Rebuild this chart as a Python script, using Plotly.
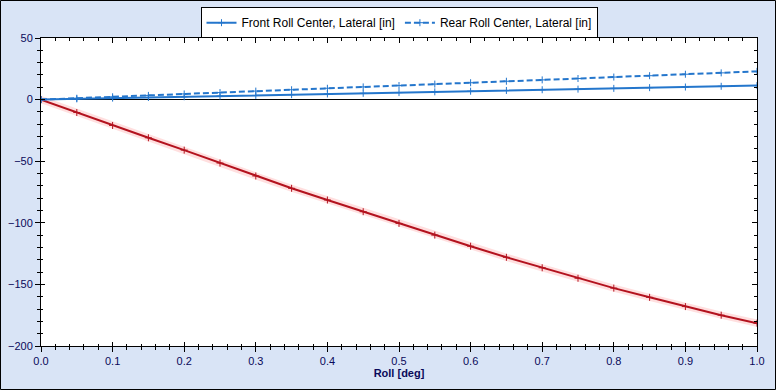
import plotly.graph_objects as go

roll = [0.0, 0.05, 0.1, 0.15, 0.2, 0.25, 0.3, 0.35, 0.4, 0.45, 0.5,
        0.55, 0.6, 0.65, 0.7, 0.75, 0.8, 0.85, 0.9, 0.95, 1.0]
front_rc = [0.0, 0.6, 1.2, 1.7, 2.3, 2.9, 3.4, 4.0, 4.6, 5.1, 5.7,
            6.3, 6.8, 7.4, 8.0, 8.5, 9.1, 9.7, 10.2, 10.8, 11.4]
rear_rc = [0.0, 1.1, 2.3, 3.4, 4.6, 5.7, 6.9, 8.0, 9.2, 10.3, 11.4,
           12.6, 13.7, 14.9, 16.0, 17.1, 18.3, 19.4, 20.6, 21.7, 22.9]
red_series = [0.0, -10.5, -21.0, -31.0, -41.0, -51.5, -62.0, -72.0, -81.5, -91.0, -100.5,
              -110.0, -119.0, -128.0, -136.5, -145.0, -153.0, -160.5, -168.0, -175.0, -181.5]

BLUE = "#2476cc"
RED = "#b3121e"
NAVY = "#0a0a5a"

fig = go.Figure()
# faint glow under red line
fig.add_trace(go.Scatter(x=roll, y=red_series, mode="lines",
                         line=dict(color="rgba(255,110,110,0.22)", width=7),
                         showlegend=False, hoverinfo="skip"))
fig.add_trace(go.Scatter(x=roll, y=red_series, mode="lines+markers",
                         line=dict(color=RED, width=2),
                         marker=dict(symbol="cross-thin", size=5, color=RED,
                                     line=dict(color=RED, width=1)),
                         showlegend=False))
fig.add_trace(go.Scatter(x=roll, y=front_rc, mode="lines+markers",
                         name="Front Roll Center, Lateral [in]",
                         line=dict(color=BLUE, width=2),
                         marker=dict(symbol="cross-thin", size=5, color=BLUE,
                                     line=dict(color=BLUE, width=1))))
fig.add_trace(go.Scatter(x=roll, y=rear_rc, mode="lines+markers",
                         name="Rear Roll Center, Lateral [in]",
                         line=dict(color=BLUE, width=2, dash="6px,3px"),
                         marker=dict(symbol="cross-thin", size=5, color=BLUE,
                                     line=dict(color=BLUE, width=1))))

tickfont = dict(family="Liberation Sans, Arial, sans-serif", size=11, color=NAVY)

fig.update_layout(
    width=776, height=390,
    margin=dict(l=41, r=19, t=38, b=44, autoexpand=False),
    paper_bgcolor="#d9e4f6",
    plot_bgcolor="white",
    font=dict(family="Liberation Sans, Arial, sans-serif", size=12, color="black"),
    legend=dict(orientation="h", x=0.5, xanchor="center", y=1.1, yanchor="top",
                bgcolor="white", bordercolor="black", borderwidth=1,
                font=dict(size=12, color="black"), itemwidth=30,
                tracegroupgap=0),
    xaxis=dict(range=[0, 1], tickvals=[i / 10 for i in range(11)],
               ticktext=[f"{i/10:.1f}" for i in range(11)],
               ticks="outside", ticklen=5, tickcolor="black", tickwidth=1,
               minor=dict(dtick=0.02, ticks="outside", ticklen=3, tickcolor="black"),
               showline=True, linecolor="black", linewidth=1, mirror=True,
               showgrid=False, zeroline=False, tickfont=tickfont,
               title=dict(text="<b>Roll [deg]</b>", font=dict(size=11, color=NAVY), standoff=2)),
    yaxis=dict(range=[-200, 50], dtick=50,
               ticks="outside", ticklen=5, tickcolor="black", tickwidth=1,
               minor=dict(dtick=10, ticks="outside", ticklen=3, tickcolor="black"),
               showline=True, linecolor="black", linewidth=1, mirror=True,
               showgrid=False, zeroline=True, zerolinecolor="black", zerolinewidth=1,
               tickfont=tickfont),
    xaxis2=dict(overlaying="x", side="top", range=[0, 1], dtick=0.1,
                ticks="inside", ticklen=5, tickcolor="black",
                minor=dict(dtick=0.02, ticks="inside", ticklen=3, tickcolor="black"),
                showticklabels=False, showgrid=False, zeroline=False),
    yaxis2=dict(overlaying="y", side="right", range=[-200, 50], dtick=50,
                ticks="inside", ticklen=5, tickcolor="black",
                minor=dict(dtick=10, ticks="inside", ticklen=3, tickcolor="black"),
                showticklabels=False, showgrid=False, zeroline=False),
    xaxis3=dict(overlaying="x", side="bottom", range=[0, 1], dtick=0.1,
                ticks="inside", ticklen=4, tickcolor="black",
                minor=dict(dtick=0.02, ticks="inside", ticklen=2, tickcolor="black"),
                showticklabels=False, showgrid=False, zeroline=False),
    yaxis3=dict(overlaying="y", side="left", range=[-200, 50], dtick=50,
                ticks="inside", ticklen=4, tickcolor="black",
                minor=dict(dtick=10, ticks="inside", ticklen=2, tickcolor="black"),
                showticklabels=False, showgrid=False, zeroline=False),
)

# invisible traces so overlay axes render
fig.add_trace(go.Scatter(x=[0], y=[0], xaxis="x2", yaxis="y2", mode="markers",
                         marker=dict(opacity=0), showlegend=False, hoverinfo="skip"))
fig.add_trace(go.Scatter(x=[0], y=[0], xaxis="x3", yaxis="y3", mode="markers",
                         marker=dict(opacity=0), showlegend=False, hoverinfo="skip"))

# outer figure border
fig.add_shape(type="rect", xref="paper", yref="paper",
              x0=(0.5 - 41) / 716, x1=(775.5 - 41) / 716,
              y0=(346 - 389.5) / 308, y1=(346 - 0.5) / 308,
              line=dict(color="black", width=1), layer="below")

fig.write_html("out.html", config={"displayModeBar": False},
               post_script="document.body.style.margin='0';document.body.style.overflow='hidden';")
